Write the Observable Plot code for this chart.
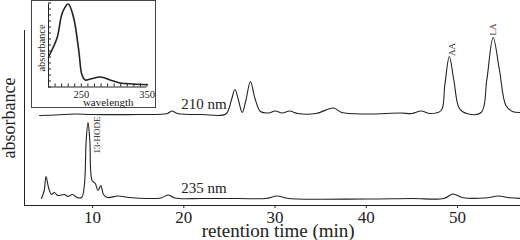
<!DOCTYPE html>
<html>
<head>
<meta charset="utf-8">
<script src="https://cdn.jsdelivr.net/npm/d3@7"></script>
<script src="https://cdn.jsdelivr.net/npm/@observablehq/plot@0.6"></script>
<style>
  html, body { margin: 0; padding: 0; background: #fff; }
  #wrap { position: relative; width: 520px; height: 240px; background: #fff; overflow: hidden; }
  #inset { position: absolute; left: 31px; top: 0px; width: 125px; height: 108px; box-sizing: border-box;
           border: 1.5px solid #444; background: #fff; }
  svg { display: block; }
</style>
</head>
<body>
<div id="wrap"><div id="main"></div><div id="inset"></div></div>
<script>
// retention time (min) and absorbance (arbitrary units) for the 235 nm trace
const t235 = [4.4, 4.7, 4.9, 5.2, 5.5, 5.8, 6.2, 6.9, 7.3, 7.8, 8.3, 8.8, 9.1, 9.3, 9.5, 9.7, 9.95, 10.3, 10.6, 10.9, 11.2, 11.6, 12.8, 14, 16, 17.5, 18.3, 19, 22, 26, 29, 30.2, 31.5, 40, 45, 48.5, 49.5, 50.5, 53, 54.5, 55.5, 57];
const a235 = [7, 15, 29, 17, 11, 13, 10, 11, 9, 11, 8, 8, 20, 65, 83, 65, 25, 22, 15, 20, 11, 8, 9.5, 8, 7, 7.5, 10.5, 7.5, 7, 7, 7, 9.5, 7, 6.5, 7, 7, 11.5, 8, 7.5, 9.5, 8, 7];
// 210 nm trace
const t210 = [4.2, 6, 8, 10, 15, 18.2, 18.7, 19.3, 22, 24.6, 25.2, 25.6, 26.0, 26.4, 26.8, 27.3, 27.8, 28.4, 29.3, 30.0, 30.8, 31.6, 32.5, 34.5, 36.4, 37.3, 40, 43.8, 45, 46, 47, 48.2, 48.6, 49.1, 49.6, 50.2, 51, 52.6, 53.2, 53.9, 54.6, 55.3, 56, 57];
const a210 = [90, 90.5, 91.5, 91, 91, 92, 94.5, 92, 91, 91.5, 105, 116, 105, 93, 105, 124, 107, 94, 92.5, 94.5, 92.5, 94.5, 92, 92, 97.5, 93, 91.5, 92.5, 92, 94.5, 92, 95, 120, 149, 125, 97, 92, 93, 125, 168, 135, 100, 94, 93];
const xTicks = [10, 20, 30, 40, 50];
const traceLabels = ["210 nm", "235 nm"];
const peakNames = ["13-HODE", "AA", "LA"];
const peakTimes = [10.55, 49.4, 53.9];
const peakLevels = [70.5, 156, 176];

// inset: UV spectrum
const wl = [200, 213, 221, 230, 238, 246, 251, 256, 264, 279, 294, 309, 329, 350];
const absSpec = [30, 49, 74, 83, 70, 37, 12, 7, 8, 10, 7, 4, 3, 2.3];
const wlTicks = [250, 350];

const s235 = t235.map((t, i) => ({t, a: a235[i]}));
const s210 = t210.map((t, i) => ({t, a: a210[i]}));
const peaks = peakNames.map((n, i) => ({n, t: peakTimes[i], a: peakLevels[i]}));
const serif = "'Liberation Serif', 'DejaVu Serif', serif";
const ink = "#222";

const xMin = 2.54, xMax = 56.9;
const main = Plot.plot({
  width: 520, height: 240,
  marginLeft: 24, marginRight: 0, marginTop: 0, marginBottom: 35,
  style: {fontFamily: serif, fontSize: "17px", background: "transparent", color: ink, overflow: "visible"},
  x: {domain: [xMin, xMax], ticks: xTicks, tickSize: 3, tickPadding: 2, label: null, tickFormat: d => String(d)},
  y: {domain: [0, 205], axis: null},
  marks: [
    Plot.ruleX([xMin], {y1: 0, y2: 175, stroke: ink, strokeWidth: 1}),
    Plot.ruleY([0], {x1: xMin, x2: xMax, stroke: ink, strokeWidth: 1}),
    Plot.line(s235, {x: "t", y: "a", curve: "catmull-rom", stroke: ink, strokeWidth: 1.1}),
    Plot.line(s210, {x: "t", y: "a", curve: "catmull-rom", stroke: ink, strokeWidth: 1.1}),
    Plot.text([traceLabels[0]], {x: 22.2, y: 101, text: d => d, fontSize: 15, fill: ink}),
    Plot.text([traceLabels[1]], {x: 22.2, y: 17, text: d => d, fontSize: 15, fill: ink}),
    Plot.text(peaks, {x: "t", y: "a", text: "n", rotate: -90, fontSize: 9, fill: ink}),
    Plot.text(["absorbance"], {x: 0.9, y: 87.5, text: d => d, rotate: -90, fontSize: 18, fill: ink}),
    Plot.text(["retention time (min)"], {x: 30.34, y: -25.5, text: d => d, fontSize: 19, fill: ink})
  ]
});
document.getElementById("main").appendChild(main);

const spec = wl.map((w, i) => ({w, a: absSpec[i]}));
const iw = 122, ih = 105, iml = 16, imr = 7.5, imt = 2.5, imb = 19.5;
const yTk = d3.range(0, 85, 6);
const xTk = d3.range(200, 351, 10);
const inset = Plot.plot({
  width: iw, height: ih,
  marginLeft: iml, marginRight: imr, marginTop: imt, marginBottom: imb,
  style: {fontFamily: serif, background: "transparent", color: ink, overflow: "visible"},
  x: {domain: [200, 350], axis: null},
  y: {domain: [0, 83], axis: null},
  marks: [
    Plot.ruleX([200], {stroke: ink}),
    Plot.ruleY([0], {stroke: ink}),
    Plot.tickY(yTk, {y: d => d, insetRight: iw - iml - imr - 3, stroke: ink}),
    Plot.tickX(xTk, {x: d => d, insetTop: ih - imt - imb - 3, stroke: ink}),
    Plot.line(spec, {x: "w", y: "a", curve: "catmull-rom", stroke: ink, strokeWidth: 1.6}),
    Plot.text(wlTicks, {x: d => d, y: -7.5, text: d => String(d), fontSize: 10.5, fill: ink}),
    Plot.text(["wavelength"], {x: 291, y: -15.5, text: d => d, fontSize: 11, fill: ink}),
    Plot.text(["absorbance"], {x: 190, y: 39, text: d => d, rotate: -90, fontSize: 10.5, fill: ink})
  ]
});
document.getElementById("inset").appendChild(inset);
</script>
</body>
</html>
